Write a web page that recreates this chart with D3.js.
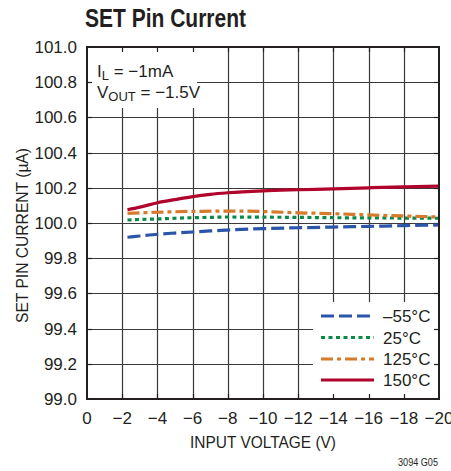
<!DOCTYPE html>
<html>
<head>
<meta charset="utf-8">
<script src="https://cdn.jsdelivr.net/npm/d3@7"></script>
<style>
  html, body { margin: 0; padding: 0; background: #fff; }
  svg text { font-family: "Liberation Sans", Arial, sans-serif; fill: #231f20; }
</style>
</head>
<body>
<svg id="chart" width="451" height="471"></svg>
<script>
// ---- data ----
const xTicks = [0, -2, -4, -6, -8, -10, -12, -14, -16, -18, -20];
const yTicks = [99.0, 99.2, 99.4, 99.6, 99.8, 100.0, 100.2, 100.4, 100.6, 100.8, 101.0];
const vin = [-2.3, -3, -4, -5, -6, -7, -8, -10, -12, -14, -16, -18, -20];
const iM55  = [99.919, 99.926, 99.936, 99.943, 99.949, 99.955, 99.960, 99.968, 99.973, 99.977, 99.981, 99.985, 99.989];
const i25   = [100.017, 100.020, 100.023, 100.027, 100.030, 100.032, 100.034, 100.033, 100.032, 100.030, 100.029, 100.028, 100.027];
const i125  = [100.055, 100.058, 100.061, 100.064, 100.066, 100.067, 100.068, 100.065, 100.058, 100.053, 100.046, 100.040, 100.034];
const i150  = [100.075, 100.090, 100.115, 100.133, 100.150, 100.163, 100.172, 100.183, 100.189, 100.194, 100.200, 100.205, 100.209];
const seriesNames = ["–55°C", "25°C", "125°C", "150°C"];
const seriesValues = [iM55, i25, i125, i150];
const seriesColors = ["#2b55a8", "#0a8a45", "#d67a2c", "#b0042c"];
const seriesDash = ["13,5", "4,3.5", "12,4,4,4", null];

// ---- layout ----
const svg = d3.select("#chart");
const L = 87, R = 439, T = 47, B = 399;
const x = d3.scaleLinear().domain([0, -20]).range([L, R]);
const y = d3.scaleLinear().domain([99, 101]).range([B, T]);
const ink = "#231f20";

// title
svg.append("text").attr("x", 85).attr("y", 27)
  .style("font-size", "25px").style("font-weight", "bold")
  .attr("textLength", 161).attr("lengthAdjust", "spacingAndGlyphs")
  .text("SET Pin Current");

// gridlines
const grid = svg.append("g");
grid.selectAll("line.v").data(xTicks.slice(1, -1)).join("line")
  .attr("x1", d => Math.round(x(d)) + 0.5).attr("x2", d => Math.round(x(d)) + 0.5)
  .attr("y1", T).attr("y2", B).attr("stroke", "#3a3a3a").attr("stroke-width", 1.2);
grid.selectAll("line.h").data(yTicks.slice(1, -1)).join("line")
  .attr("y1", d => Math.round(y(d)) + 0.5).attr("y2", d => Math.round(y(d)) + 0.5)
  .attr("x1", L).attr("x2", R).attr("stroke", "#3a3a3a").attr("stroke-width", 1.2);

// white boxes (annotation, legend)
svg.append("rect").attr("x", L).attr("y", T).attr("width", 110).attr("height", 61).attr("fill", "#fff");
svg.append("rect").attr("x", 313).attr("y", 302).attr("width", R - 313).attr("height", B - 302).attr("fill", "#fff");

// tick stubs on all four edges
const tk = 5;
const stubs = svg.append("g").attr("stroke", ink).attr("stroke-width", 1.2);
xTicks.slice(1, -1).forEach(d => {
  const xx = Math.round(x(d)) + 0.5;
  stubs.append("line").attr("x1", xx).attr("x2", xx).attr("y1", T).attr("y2", T + tk);
  stubs.append("line").attr("x1", xx).attr("x2", xx).attr("y1", B).attr("y2", B - tk);
});
yTicks.slice(1, -1).forEach(d => {
  const yy = Math.round(y(d)) + 0.5;
  stubs.append("line").attr("y1", yy).attr("y2", yy).attr("x1", L).attr("x2", L + tk);
  stubs.append("line").attr("y1", yy).attr("y2", yy).attr("x1", R).attr("x2", R - tk);
});

// data lines
const line = d3.line().x((d, i) => x(vin[i])).y(d => y(d)).curve(d3.curveMonotoneX);
seriesValues.forEach((vals, k) => {
  svg.append("path").datum(vals).attr("d", line)
    .attr("fill", "none").attr("stroke", seriesColors[k]).attr("stroke-width", 3.2)
    .attr("stroke-dasharray", seriesDash[k]);
});

// frame
svg.append("rect").attr("x", L).attr("y", T).attr("width", R - L).attr("height", B - T)
  .attr("fill", "none").attr("stroke", ink).attr("stroke-width", 2);

// axes labels
const fmtX = d => d === 0 ? "0" : "−" + Math.abs(d);
svg.append("g").selectAll("text").data(xTicks).join("text")
  .attr("x", d => x(d)).attr("y", 424).attr("text-anchor", "middle")
  .style("font-size", "17px").text(fmtX);
svg.append("g").selectAll("text").data(yTicks).join("text")
  .attr("x", 77).attr("y", d => y(d) + 6).attr("text-anchor", "end")
  .style("font-size", "17px").text(d => d.toFixed(1));

svg.append("text").attr("x", 263).attr("y", 448).attr("text-anchor", "middle")
  .style("font-size", "17px").attr("textLength", 146).attr("lengthAdjust", "spacingAndGlyphs")
  .text("INPUT VOLTAGE (V)");
svg.append("text").attr("transform", `translate(28,235.5) rotate(-90)`)
  .attr("text-anchor", "middle").style("font-size", "17px")
  .attr("textLength", 175).attr("lengthAdjust", "spacingAndGlyphs")
  .text("SET PIN CURRENT (µA)");

// annotation
const a1 = svg.append("text").attr("x", 97).attr("y", 77).style("font-size", "17px");
a1.append("tspan").text("I");
a1.append("tspan").attr("dy", 3).style("font-size", "13px").text("L");
a1.append("tspan").attr("dy", -3).text(" = −1mA");
const a2 = svg.append("text").attr("x", 97).attr("y", 98).style("font-size", "17px");
a2.append("tspan").text("V");
a2.append("tspan").attr("dy", 3).style("font-size", "13px").text("OUT");
a2.append("tspan").attr("dy", -3).text(" = −1.5V");

// legend
const legRows = [316, 337.5, 359, 380];
seriesNames.forEach((name, k) => {
  svg.append("line").attr("x1", 321).attr("x2", 374)
    .attr("y1", legRows[k]).attr("y2", legRows[k])
    .attr("stroke", seriesColors[k]).attr("stroke-width", 3.2)
    .attr("stroke-dasharray", seriesDash[k]);
  svg.append("text").attr("x", 383).attr("y", legRows[k] + 6)
    .style("font-size", "17px").text(name);
});

// footnote
svg.append("text").attr("x", 438).attr("y", 466).attr("text-anchor", "end")
  .style("font-size", "10px").attr("textLength", 40).attr("lengthAdjust", "spacingAndGlyphs")
  .text("3094 G05");
</script>
</body>
</html>
